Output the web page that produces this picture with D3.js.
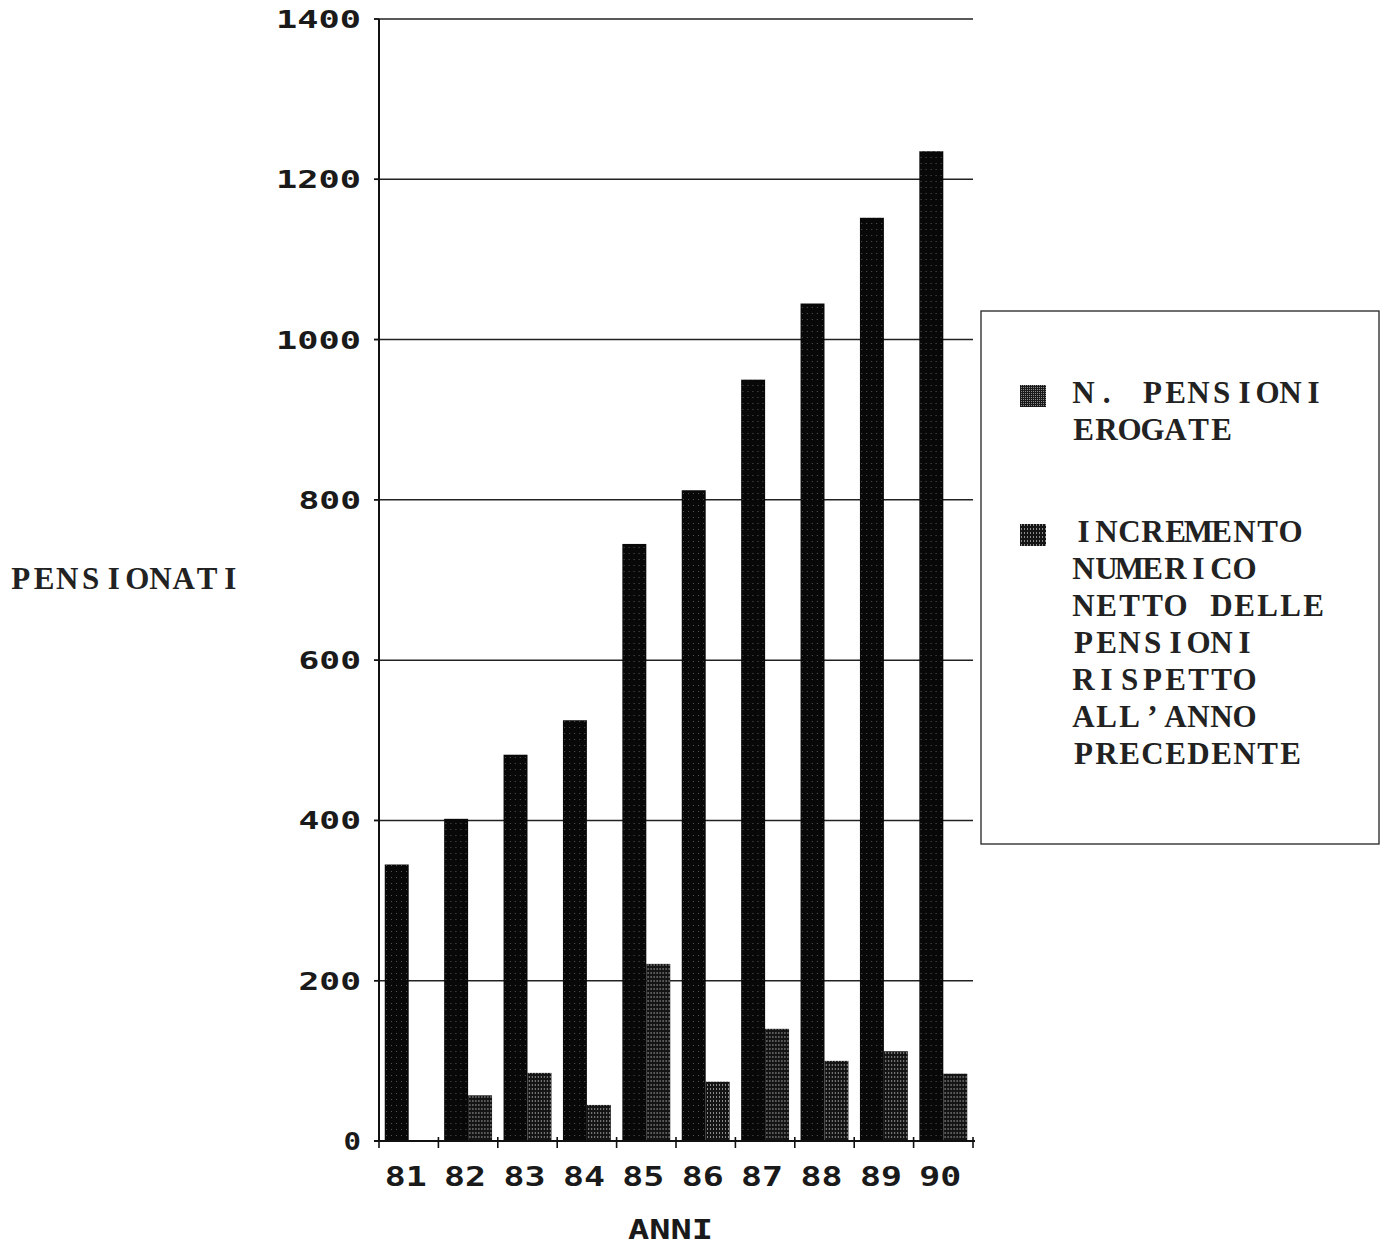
<!DOCTYPE html>
<html>
<head>
<meta charset="utf-8">
<script src="https://cdn.jsdelivr.net/npm/d3@7"></script>
<style>
  html, body { margin: 0; padding: 0; background: #fff; }
  svg { display: block; }
</style>
</head>
<body>
<svg id="chart" width="1390" height="1247"></svg>
<script>
// ---- data ----
const years = ["81", "82", "83", "84", "85", "86", "87", "88", "89", "90"];
const pensioniErogate = [345, 402, 482, 525, 745, 812, 950, 1045, 1152, 1235];
const incrementoNetto = [0, 57, 85, 45, 221, 74, 140, 100, 112, 84];
const yTickValues = [0, 200, 400, 600, 800, 1000, 1200, 1400];
const seriesKeys = ["pensioni", "incremento"];
const legendLabels = [
  ["N. PENSIONI", "EROGATE"],
  ["INCREMENTO", "NUMERICO", "NETTO DELLE", "PENSIONI", "RISPETTO", "ALL\u2019ANNO", "PRECEDENTE"]
];
const yTitle = "PENSIONATI";
const xTitle = "ANNI";

// ---- layout ----
const plotL = 379, plotR = 973, plotT = 19, plotB = 1141;
const svg = d3.select("#chart");

const defs = svg.append("defs");
const pDark = defs.append("pattern").attr("id", "pDark")
  .attr("patternUnits", "userSpaceOnUse").attr("width", 5).attr("height", 6);
pDark.append("rect").attr("width", 5).attr("height", 6).attr("fill", "#080808");
pDark.append("rect").attr("x", 2).attr("y", 1).attr("width", 1).attr("height", 1).attr("fill", "#555");

const pGrey = defs.append("pattern").attr("id", "pGrey")
  .attr("patternUnits", "userSpaceOnUse").attr("width", 3).attr("height", 4);
pGrey.append("rect").attr("width", 3).attr("height", 4).attr("fill", "#141414");
pGrey.append("rect").attr("x", 1).attr("y", 0).attr("width", 1).attr("height", 2).attr("fill", "#8a8a8a");

const pSwatch1 = defs.append("pattern").attr("id", "pSwatch1")
  .attr("patternUnits", "userSpaceOnUse").attr("width", 2).attr("height", 2);
pSwatch1.append("rect").attr("width", 2).attr("height", 2).attr("fill", "#1a1a1a");
pSwatch1.append("rect").attr("x", 1).attr("y", 1).attr("width", 1).attr("height", 1).attr("fill", "#8a8a8a");

const fills = { pensioni: "url(#pDark)", incremento: "url(#pGrey)" };
const swatchFills = { pensioni: "url(#pSwatch1)", incremento: "url(#pGrey)" };

const y = d3.scaleLinear().domain([0, 1400]).range([plotB, plotT]);
const x = d3.scaleBand().domain(years).range([plotL, plotR]).paddingInner(0).paddingOuter(0);
const xSub = d3.scaleBand().domain(seriesKeys).range([0, x.bandwidth()]).paddingInner(0).paddingOuter(0.24);
const xEdges = d3.scaleLinear().domain([0, years.length]).range([plotL, plotR]);

// gridlines
svg.append("g").selectAll("line").data(yTickValues.filter(v => v > 0)).join("line")
  .attr("x1", plotL - 5).attr("x2", plotR)
  .attr("y1", d => y(d)).attr("y2", d => y(d))
  .attr("stroke", "#222").attr("stroke-width", 1.5);

// bars
const rows = years.map((yr, i) => ({ year: yr, pensioni: pensioniErogate[i], incremento: incrementoNetto[i] }));
const groups = svg.append("g").selectAll("g").data(rows).join("g")
  .attr("transform", d => `translate(${x(d.year)},0)`);
groups.selectAll("rect").data(d => seriesKeys.map(k => ({ key: k, value: d[k] }))).join("rect")
  .attr("x", d => xSub(d.key))
  .attr("width", xSub.bandwidth())
  .attr("y", d => y(d.value))
  .attr("height", d => y(0) - y(d.value))
  .attr("fill", d => fills[d.key]);

// y axis
svg.append("line").attr("x1", plotL).attr("x2", plotL).attr("y1", y(1400)).attr("y2", y(0))
  .attr("stroke", "#111").attr("stroke-width", 2);
svg.append("g").selectAll("line").data(yTickValues).join("line")
  .attr("x1", plotL - 5).attr("x2", plotL).attr("y1", d => y(d)).attr("y2", d => y(d))
  .attr("stroke", "#111").attr("stroke-width", 1.5);

// x axis
svg.append("line").attr("x1", plotL - 5).attr("x2", plotR + 2).attr("y1", y(0)).attr("y2", y(0))
  .attr("stroke", "#111").attr("stroke-width", 2);
svg.append("g").selectAll("line").data(d3.range(years.length + 1)).join("line")
  .attr("x1", d => xEdges(d)).attr("x2", d => xEdges(d))
  .attr("y1", y(0) - 4).attr("y2", y(0) + 7)
  .attr("stroke", "#111").attr("stroke-width", 1.6);

// helper: monospaced glyph centres
const cells = (str, x0, pitch) => Array.from(str).map((c, i) => (x0 + pitch * (i + 0.5)).toFixed(1)).join(" ");

// y tick labels (stretched mono digits)
const numFont = "'DejaVu Sans Mono', monospace";
svg.append("g").selectAll("text").data(yTickValues).join("text")
  .attr("x", d => 361 - (String(d).length * 22.5 - 5))
  .attr("y", d => y(d) + 2)
  .attr("dominant-baseline", "middle")
  .attr("font-family", numFont).attr("font-weight", "bold").attr("font-size", 25)
  .attr("textLength", d => String(d).length * 22.5 - 5)
  .attr("lengthAdjust", "spacingAndGlyphs")
  .attr("fill", "#1a1a1a")
  .text(d => d);

// x tick labels
svg.append("g").selectAll("text").data(years).join("text")
  .attr("x", d => x(d) + x.bandwidth() / 2 - 24)
  .attr("y", 1178)
  .attr("dominant-baseline", "middle")
  .attr("font-family", numFont).attr("font-weight", "bold").attr("font-size", 26)
  .attr("textLength", 42)
  .attr("lengthAdjust", "spacingAndGlyphs")
  .attr("fill", "#1a1a1a")
  .text(d => d);

// axis titles
svg.append("text").attr("x", 628).attr("y", 1231).attr("dominant-baseline", "middle")
  .attr("font-family", numFont).attr("font-weight", "bold").attr("font-size", 26)
  .attr("textLength", 85).attr("lengthAdjust", "spacingAndGlyphs")
  .attr("fill", "#1a1a1a").text(xTitle);

const serifFont = "'Liberation Serif', 'DejaVu Serif', serif";
svg.append("text").attr("x", cells(yTitle, 9, 23.3)).attr("y", 582)
  .attr("text-anchor", "middle").attr("dominant-baseline", "middle")
  .attr("font-family", serifFont).attr("font-weight", "bold").attr("font-size", 31)
  .attr("fill", "#222").text(yTitle);

// legend
svg.append("rect").attr("x", 981).attr("y", 311).attr("width", 398).attr("height", 533)
  .attr("fill", "none").attr("stroke", "#333").attr("stroke-width", 1.4);

const legendStartY = [396, 535];
const linePitch = 37;
seriesKeys.forEach((k, i) => {
  svg.append("rect").attr("x", 1020).attr("y", legendStartY[i] - 11).attr("width", 26).attr("height", 22)
    .attr("fill", swatchFills[k]);
  svg.append("g").selectAll("text").data(legendLabels[i]).join("text")
    .attr("x", d => cells(d, 1072, 23))
    .attr("y", (d, j) => legendStartY[i] + j * linePitch)
    .attr("text-anchor", "middle")
    .attr("dominant-baseline", "middle")
    .attr("font-family", serifFont).attr("font-weight", "bold").attr("font-size", 31)
    .attr("fill", "#222")
    .text(d => d);
});
</script>
</body>
</html>
